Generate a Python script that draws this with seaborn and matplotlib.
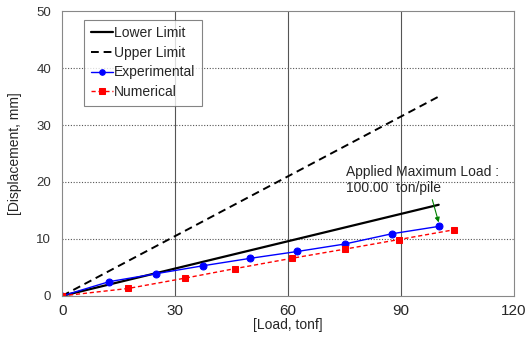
import matplotlib
matplotlib.use("Agg")
import matplotlib.pyplot as plt
import seaborn as sns
import pandas as pd

sns.set_style("white")
plt.rcParams['font.family'] = ['Liberation Sans', 'DejaVu Sans']

limit_x = [0, 100]
lower_y = [0, 16]
upper_y = [0, 35]
exp_x = [0, 12.5, 25, 37.5, 50, 62.5, 75, 87.5, 100]
exp_y = [0, 2.5, 3.9, 5.3, 6.6, 7.8, 9.1, 10.9, 12.2]
num_x = [0, 17.5, 32.5, 46, 61, 75, 89.5, 104]
num_y = [0, 1.3, 3.1, 4.8, 6.6, 8.2, 9.9, 11.6]

fig = plt.figure(figsize=(5.31, 3.37), dpi=100)
ax = fig.add_axes([0.117, 0.122, 0.851, 0.845])

sns.lineplot(x=limit_x, y=lower_y, ax=ax, color='black', lw=1.6, label='Lower Limit')
sns.lineplot(x=limit_x, y=upper_y, ax=ax, color='black', lw=1.4, ls=(0, (4, 2.5)), label='Upper Limit')
sns.lineplot(x=exp_x, y=exp_y, ax=ax, color='blue', lw=1.0, marker='o', markersize=5,
             markeredgecolor='blue', label='Experimental', sort=False)
sns.lineplot(x=num_x, y=num_y, ax=ax, color='red', lw=1.0, ls=(0, (3, 2)), marker='s', markersize=5,
             markeredgecolor='red', label='Numerical', sort=False)

ax.set_xlim(0, 120)
ax.set_ylim(0, 50)
ax.set_xticks([0, 30, 60, 90, 120])
ax.set_yticks([0, 10, 20, 30, 40, 50])
for xv in [30, 60, 90]:
    ax.axvline(xv, color='#555555', lw=0.8, zorder=0)
for yv in [10, 20, 30, 40]:
    ax.axhline(yv, color='#555555', lw=0.8, ls=(0, (1, 1.5)), zorder=0)
for s in ax.spines.values():
    s.set_color('#888888')
    s.set_linewidth(0.8)
ax.tick_params(axis='x', labelsize=11, length=0, pad=6)
ax.tick_params(axis='y', labelsize=9.5, length=0, pad=8, labelcolor='#333333')

ax.set_xlabel('[Load, tonf]', fontsize=10, labelpad=0)
ax.set_ylabel('[Displacement, mm]', fontsize=10, labelpad=10)

ax.text(75.3, 17.7, 'Applied Maximum Load :\n100.00  ton/pile', fontsize=10,
        ha='left', va='bottom', linespacing=1.2)
ax.annotate('', xy=(100, 12.9), xytext=(98.3, 16.9),
            arrowprops=dict(arrowstyle='-|>', color='green', lw=0.8, mutation_scale=7,
                            shrinkA=0, shrinkB=0))

leg = ax.legend(loc='upper left', bbox_to_anchor=(0.04, 0.985), fontsize=10, frameon=True,
                fancybox=False, edgecolor='#666666', handlelength=1.6, handletextpad=0.1,
                labelspacing=0.42, borderpad=0.45, borderaxespad=0.3)
leg.get_frame().set_linewidth(0.8)
for h in leg.legend_handles:
    h.set_markersize(4)

fig.savefig('out.png', dpi=100)
